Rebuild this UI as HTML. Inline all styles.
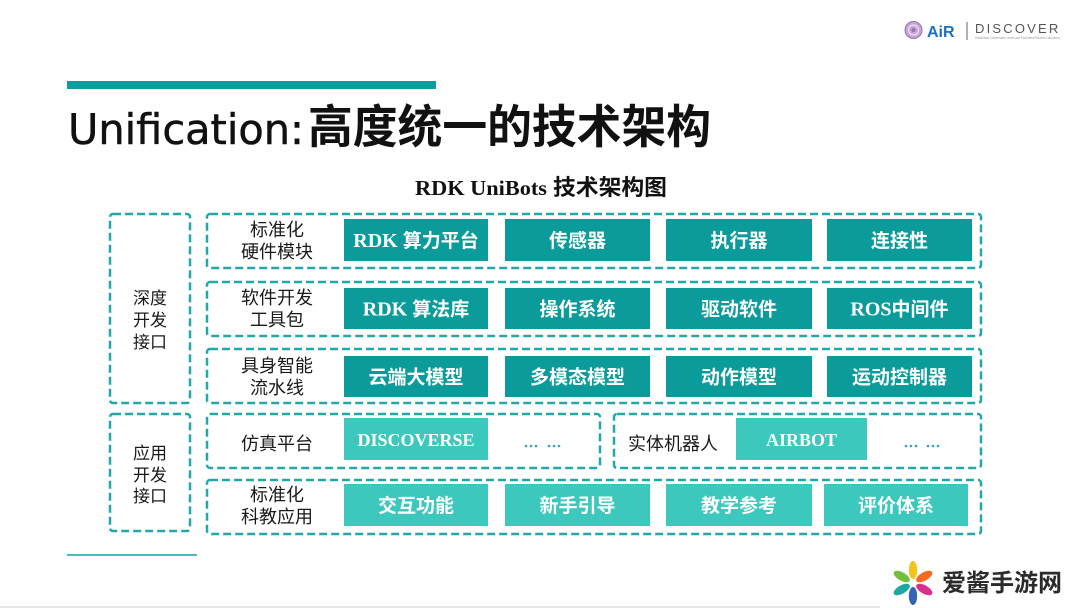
<!DOCTYPE html>
<html>
<head>
<meta charset="utf-8">
<style>
  html, body { margin: 0; padding: 0; background: #ffffff; }
  body { width: 1080px; height: 608px; overflow: hidden; }
  svg { display: block; }
</style>
</head>
<body>
<svg width="1080" height="608" viewBox="0 0 1080 608" xmlns="http://www.w3.org/2000/svg">
  <rect x="0" y="0" width="1080" height="608" fill="#ffffff"/>

  <!-- top-right logo -->
  <circle cx="913.5" cy="30" r="8.5" fill="#c6a5d6" stroke="#9b72b3" stroke-width="1"/>
  <circle cx="913.5" cy="30" r="5" fill="none" stroke="#f3e9f7" stroke-width="1"/>
  <circle cx="913.5" cy="30" r="2" fill="#9b72b3"/>
  <text x="927" y="37" font-family="'Liberation Sans', sans-serif" font-weight="bold" font-size="16" fill="#1d6fc2">AiR</text>
  <line x1="967" y1="22" x2="967" y2="40" stroke="#666" stroke-width="1"/>
  <text x="975" y="33" font-family="'Liberation Sans', sans-serif" font-size="13" letter-spacing="2.2" fill="#555">DISCOVER</text>
  <text x="975" y="39" font-family="'Liberation Sans', sans-serif" font-size="3.5" fill="#999" textLength="85" lengthAdjust="spacingAndGlyphs">Distributed Collaborative Vision and Embodied Robotics Laboratory</text>

  <!-- top bar -->
  <rect x="67" y="81" width="369" height="8" fill="#0e9d9f"/>

  <!-- title -->
  <text x="68" y="144" font-family="'DejaVu Sans', sans-serif" font-size="42" fill="#111" stroke="#111" stroke-width="0.5" textLength="236" lengthAdjust="spacingAndGlyphs">Unification:</text>
  <text x="308" y="143" font-family="'Noto Sans CJK SC', sans-serif" font-weight="bold" font-size="46" fill="#111" textLength="403" lengthAdjust="spacingAndGlyphs">高度统一的技术架构</text>

  <!-- subtitle -->
  <text x="415" y="195" font-family="'Liberation Serif', serif" font-weight="bold" font-size="21" fill="#111" textLength="132" lengthAdjust="spacingAndGlyphs">RDK UniBots</text>
  <text x="553" y="195" font-family="'Noto Sans CJK SC', sans-serif" font-weight="bold" font-size="22" fill="#111" textLength="114" lengthAdjust="spacingAndGlyphs">技术架构图</text>

  <!-- dashed boxes -->
  <g fill="none" stroke="#22a8a8" stroke-width="2.5" stroke-dasharray="8 4">
    <rect x="110" y="214" width="80" height="189" rx="3"/>
    <rect x="110" y="414" width="80" height="117" rx="3"/>
    <rect x="207" y="214" width="774" height="54" rx="3"/>
    <rect x="207" y="282" width="774" height="54" rx="3"/>
    <rect x="207" y="349" width="774" height="54" rx="3"/>
    <rect x="207" y="414" width="393" height="54" rx="3"/>
    <rect x="614" y="414" width="367" height="54" rx="3"/>
    <rect x="207" y="480" width="774" height="54" rx="3"/>
  </g>

  <!-- left labels -->
  <g font-family="'Noto Sans CJK SC', sans-serif" font-size="17" fill="#1a1a1a" text-anchor="middle">
    <text x="150" y="304">深度</text>
    <text x="150" y="326">开发</text>
    <text x="150" y="348">接口</text>
    <text x="150" y="459">应用</text>
    <text x="150" y="481">开发</text>
    <text x="150" y="502">接口</text>
  </g>

  <!-- row labels -->
  <g font-family="'Noto Sans CJK SC', sans-serif" font-size="18" fill="#1a1a1a" text-anchor="middle">
    <text x="277" y="236">标准化</text>
    <text x="277" y="258">硬件模块</text>
    <text x="277" y="304">软件开发</text>
    <text x="277" y="326">工具包</text>
    <text x="277" y="372">具身智能</text>
    <text x="277" y="394">流水线</text>
    <text x="277" y="450">仿真平台</text>
    <text x="673" y="450">实体机器人</text>
    <text x="277" y="501">标准化</text>
    <text x="277" y="523">科教应用</text>
  </g>

  <!-- dark cells -->
  <g fill="#0c9b9b">
    <rect x="344" y="219" width="144" height="42"/>
    <rect x="505" y="219" width="145" height="42"/>
    <rect x="666" y="219" width="146" height="42"/>
    <rect x="827" y="219" width="145" height="42"/>
    <rect x="344" y="288" width="144" height="41"/>
    <rect x="505" y="288" width="145" height="41"/>
    <rect x="666" y="288" width="146" height="41"/>
    <rect x="827" y="288" width="145" height="41"/>
    <rect x="344" y="356" width="144" height="41"/>
    <rect x="505" y="356" width="145" height="41"/>
    <rect x="666" y="356" width="146" height="41"/>
    <rect x="827" y="356" width="145" height="41"/>
  </g>

  <!-- light cells -->
  <g fill="#3cc8bd">
    <rect x="344" y="418" width="144" height="42"/>
    <rect x="736" y="418" width="131" height="42"/>
    <rect x="344" y="484" width="144" height="42"/>
    <rect x="505" y="484" width="145" height="42"/>
    <rect x="666" y="484" width="146" height="42"/>
    <rect x="824" y="484" width="144" height="42"/>
  </g>

  <!-- cell texts -->
  <g font-family="'Noto Sans CJK SC', sans-serif" font-weight="bold" font-size="19" fill="#ffffff" text-anchor="middle">
    <text x="416" y="247"><tspan font-family="'Liberation Serif', serif" font-size="20">RDK </tspan>算力平台</text>
    <text x="577.5" y="247">传感器</text>
    <text x="739" y="247">执行器</text>
    <text x="899.5" y="247">连接性</text>

    <text x="416" y="315.5"><tspan font-family="'Liberation Serif', serif" font-size="20">RDK </tspan>算法库</text>
    <text x="577.5" y="315.5">操作系统</text>
    <text x="739" y="315.5">驱动软件</text>
    <text x="899.5" y="315.5"><tspan font-family="'Liberation Serif', serif" font-size="20">ROS</tspan>中间件</text>

    <text x="416" y="383.5">云端大模型</text>
    <text x="577.5" y="383.5">多模态模型</text>
    <text x="739" y="383.5">动作模型</text>
    <text x="899.5" y="383.5">运动控制器</text>

    <text x="416" y="446" font-family="'Liberation Serif', serif" font-size="18">DISCOVERSE</text>
    <text x="801.5" y="446" font-family="'Liberation Serif', serif" font-size="18">AIRBOT</text>

    <text x="416" y="512">交互功能</text>
    <text x="577.5" y="512">新手引导</text>
    <text x="739" y="512">教学参考</text>
    <text x="896" y="512">评价体系</text>
  </g>

  <!-- ellipsis dots -->
  <g fill="#3aa0b6">
    <circle cx="526" cy="446" r="1.3"/><circle cx="531" cy="446" r="1.3"/><circle cx="536" cy="446" r="1.3"/>
    <circle cx="549" cy="446" r="1.3"/><circle cx="554" cy="446" r="1.3"/><circle cx="559" cy="446" r="1.3"/>
    <circle cx="906" cy="446" r="1.3"/><circle cx="911" cy="446" r="1.3"/><circle cx="916" cy="446" r="1.3"/>
    <circle cx="928" cy="446" r="1.3"/><circle cx="933" cy="446" r="1.3"/><circle cx="938" cy="446" r="1.3"/>
  </g>

  <!-- bottom-left line -->
  <rect x="67" y="554" width="130" height="2" fill="#4db8c0"/>

  <!-- watermark -->
  <g transform="translate(913,583)">
    <ellipse cx="0" cy="-13" rx="4.2" ry="9" fill="#f6c31a"/>
    <ellipse cx="0" cy="-13" rx="4.2" ry="9" fill="#f26b1d" transform="rotate(60)"/>
    <ellipse cx="0" cy="-13" rx="4.2" ry="9" fill="#d8308c" transform="rotate(120)"/>
    <ellipse cx="0" cy="-13" rx="4.2" ry="9" fill="#3465b5" transform="rotate(180)"/>
    <ellipse cx="0" cy="-13" rx="4.2" ry="9" fill="#1ea7a0" transform="rotate(240)"/>
    <ellipse cx="0" cy="-13" rx="4.2" ry="9" fill="#72c03a" transform="rotate(300)"/>
  </g>
  <text x="942" y="591" font-family="'Noto Sans CJK SC', sans-serif" font-weight="bold" font-size="24" fill="#2b2b2b">爱酱手游网</text>

  <!-- bottom gray strip -->
  <rect x="0" y="606" width="880" height="2" fill="#e6e6e6"/>
</svg>
</body>
</html>
